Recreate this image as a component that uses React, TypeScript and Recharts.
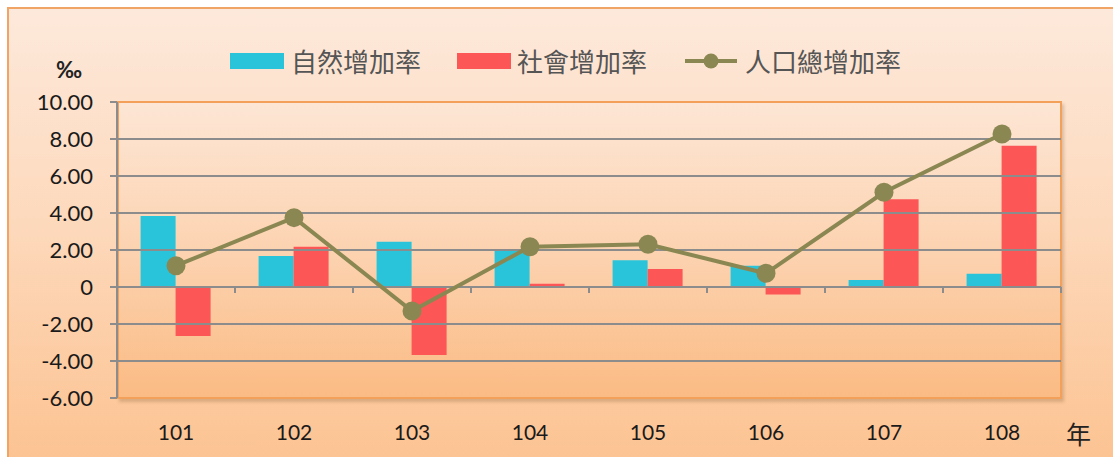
import React from "react";
import {
  ComposedChart,
  Bar,
  Line,
  XAxis,
  YAxis,
  ReferenceLine,
} from "recharts";

const years = ["101", "102", "103", "104", "105", "106", "107", "108"];
const naturalRate = [3.84, 1.68, 2.45, 2.05, 1.44, 1.15, 0.38, 0.72];
const socialRate = [-2.65, 2.18, -3.68, 0.18, 0.97, -0.4, 4.74, 7.64];
const totalRate = [1.15, 3.75, -1.3, 2.18, 2.31, 0.74, 5.12, 8.27];
const yTicks = [-6, -4, -2, 0, 2, 4, 6, 8, 10];
const gridValues = [-4, -2, 0, 2, 4, 6, 8];
const seriesNames = ["自然增加率", "社會增加率", "人口總增加率"];
const yUnit = "‰";
const xUnit = "年";

const data = years.map((y, i) => ({
  year: y,
  natural: naturalRate[i],
  social: socialRate[i],
  total: totalRate[i],
}));

const BLUE = "#29c4da";
const RED = "#fd5657";
const OLIVE = "#8b8752";
const GRID = "#8c8c8c";

const W = 1113;
const H = 457;
const PLOT_LEFT = 117;
const PLOT_TOP = 102;
const PLOT_RIGHT = 1061;
const PLOT_BOTTOM = 398;
const PLOT_H = PLOT_BOTTOM - PLOT_TOP;
const BAND = (PLOT_RIGHT - PLOT_LEFT) / years.length;

const numFont = "Lato, 'Open Sans', sans-serif";
const cjkFont = "'Noto Sans CJK TC', 'Noto Sans CJK SC', sans-serif";

const XTick = (props: any) => {
  const { x, y, payload } = props;
  const zeroY = y - (6 / 16) * PLOT_H;
  return (
    <g>
      <line x1={x + BAND / 2} x2={x + BAND / 2} y1={zeroY} y2={zeroY + 6} stroke={GRID} strokeWidth={2} />
      <text x={x} y={y + 27} dy="0.71em" textAnchor="middle" fontFamily={numFont} fontSize={21} fill="#1a1a1a">
        {payload.value}
      </text>
    </g>
  );
};

const fmtY = (v: number) => (v === 0 ? "0" : v.toFixed(2));

const LegendBox = () => (
  <div
    style={{
      position: "absolute",
      left: 230,
      top: 46,
      display: "flex",
      alignItems: "center",
      fontFamily: cjkFont,
      fontSize: 26,
      color: "#555555",
      lineHeight: "30px",
      whiteSpace: "nowrap",
    }}
  >
    <div style={{ width: 54, height: 16, background: BLUE, marginRight: 7 }} />
    <span>{seriesNames[0]}</span>
    <div style={{ width: 54, height: 16, background: RED, marginLeft: 36, marginRight: 6 }} />
    <span>{seriesNames[1]}</span>
    <svg width={54} height={20} style={{ marginLeft: 38, marginRight: 6 }}>
      <line x1={0} x2={52} y1={10} y2={10} stroke={OLIVE} strokeWidth={4} />
      <circle cx={26} cy={10} r={7.5} fill={OLIVE} />
    </svg>
    <span>{seriesNames[2]}</span>
  </div>
);

export default function App() {
  return (
    <div style={{ position: "relative", width: W, height: H, overflow: "hidden", background: "#ffffff" }}>
      <style>{`body{margin:0}`}</style>
      <div
        style={{
          position: "absolute",
          left: 7,
          top: 7,
          width: W + 20,
          height: H + 20,
          boxSizing: "border-box",
          border: "2px solid #f0a465",
          background: "linear-gradient(to bottom, #fde9db 0%, #fdd9bc 45%, #fcc18e 100%)",
        }}
      />
      <div
        style={{
          position: "absolute",
          left: PLOT_LEFT,
          top: PLOT_TOP - 1,
          width: PLOT_RIGHT - PLOT_LEFT + 1,
          height: PLOT_H + 2,
          boxSizing: "border-box",
          border: "2px solid #f2a05a",
          background: "linear-gradient(to bottom, #fde6d5 0%, #fcd3b1 50%, #fbbb84 100%)",
          boxShadow: "2px 3px 3px rgba(120,80,40,0.25)",
        }}
      />
      <div style={{ position: "absolute", left: 56, top: 56, fontFamily: numFont, fontSize: 22, fontWeight: 700, color: "#222" }}>
        {yUnit}
      </div>
      <div style={{ position: "absolute", left: 1066, top: 415, fontFamily: cjkFont, fontSize: 25, color: "#222" }}>
        {xUnit}
      </div>
      <LegendBox />
      <div style={{ position: "absolute", left: 0, top: 0 }}>
        <ComposedChart
          width={W}
          height={H}
          data={data}
          margin={{ top: PLOT_TOP, right: W - PLOT_RIGHT, bottom: 0, left: PLOT_LEFT - 80 }}
          barCategoryGap="20%"
          barGap={0}
        >
          <XAxis
            dataKey="year"
            axisLine={false}
            tickLine={false}
            tickSize={0}
            tickMargin={0}
            tick={<XTick />}
            interval={0}
            height={H - PLOT_BOTTOM}
          />
          <YAxis
            width={80}
            domain={[-6, 10]}
            ticks={yTicks}
            interval={0}
            tickFormatter={fmtY}
            axisLine={{ stroke: GRID, strokeWidth: 2 }}
            tickLine={{ stroke: GRID, strokeWidth: 2 }}
            tickSize={7}
            tickMargin={17}
            tick={{ fontFamily: numFont, fontSize: 22, fill: "#1a1a1a" }}
            allowDataOverflow
          />
          {gridValues.map((v) => (
            <ReferenceLine key={v} y={v} stroke={GRID} strokeWidth={2} ifOverflow="visible" />
          ))}
          <Bar dataKey="natural" name={seriesNames[0]} fill={BLUE} isAnimationActive={false} />
          <Bar dataKey="social" name={seriesNames[1]} fill={RED} isAnimationActive={false} />
          <Line
            dataKey="total"
            name={seriesNames[2]}
            stroke={OLIVE}
            strokeWidth={4}
            dot={{ r: 9.5, fill: OLIVE, stroke: OLIVE, strokeWidth: 0 }}
            isAnimationActive={false}
          />
        </ComposedChart>
      </div>
    </div>
  );
}
